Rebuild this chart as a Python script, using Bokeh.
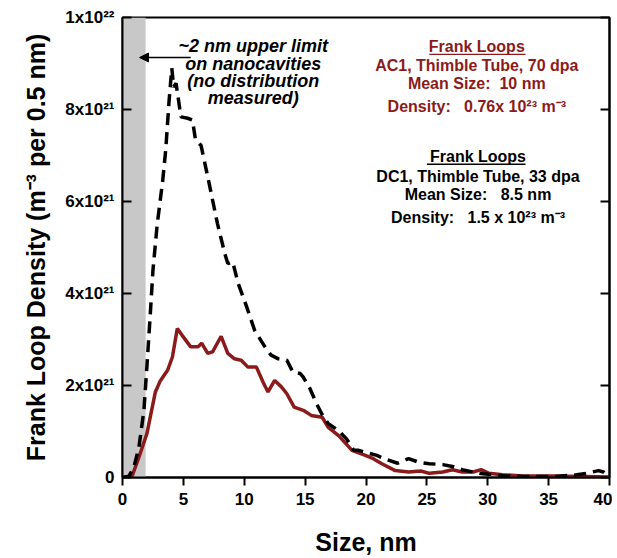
from bokeh.plotting import figure
from bokeh.models import (FixedTicker, LinearAxis, Range1d, Arrow, NormalHead,
                          BoxAnnotation)
from bokeh.core.properties import value
from bokeh.embed import file_html
from bokeh.resources import INLINE

# ---- data (y in units of 1e21 m^-3 per 0.5 nm) ----
x_ac1 = [0, 0.8, 1.35, 2.0, 2.7, 3.1, 3.7, 4.1, 4.5, 4.9, 5.6, 6.2, 6.5, 7.0, 7.4, 8.1,
         8.65, 9.2, 9.75, 10.3, 11.0, 11.55, 11.95, 12.5, 13.05, 13.5, 14.1, 14.85, 15.5,
         16.4, 16.9, 17.75, 18.85, 19.95, 20.6, 21.3, 22.4, 23.5, 24.5, 25.2, 26.3, 27.1,
         27.9, 28.8, 29.45, 30.1, 31.2, 32.9, 35.4, 38.0, 40.0]
y_ac1 = [0, 0.04, 0.44, 0.95, 1.86, 2.1, 2.33, 2.62, 3.24, 3.09, 2.84, 2.84, 2.92, 2.70,
         2.73, 3.07, 2.70, 2.58, 2.55, 2.40, 2.40, 2.07, 1.86, 2.11, 1.97, 1.82, 1.53,
         1.46, 1.35, 1.31, 1.09, 0.91, 0.59, 0.48, 0.41, 0.30, 0.15, 0.12, 0.14, 0.09,
         0.12, 0.17, 0.12, 0.12, 0.17, 0.09, 0.06, 0.03, 0.03, 0.02, 0.01]

x_dc1 = [0, 0.5, 0.93, 1.35, 1.76, 2.04, 2.3, 2.5, 2.85, 3.3, 3.55, 3.83, 4.05, 4.2, 4.4,
         4.8, 5.35, 5.75, 6.0, 6.45, 7.0, 7.8, 8.4, 8.65, 9.05, 9.5, 10.2, 10.85, 11.7,
         12.2, 12.8, 13.5, 14.0, 14.6, 14.85, 15.4, 15.95, 16.35, 16.9, 17.75, 18.4, 19.0,
         19.4, 19.95, 20.9, 21.5, 22.6, 23.5, 24.35, 25.2, 26.3, 27.1, 27.9, 28.8, 29.6,
         31.2, 32.9, 35.4, 37.3, 38.1, 39.1, 39.5, 39.9]
y_dc1 = [0, 0.02, 0.22, 0.66, 1.46, 2.55, 3.63, 4.5, 5.5, 6.45, 7.12, 8.2, 8.9, 8.49, 8.57,
         7.84, 7.81, 7.77, 7.33, 7.22, 6.54, 5.52, 4.87, 4.65, 4.69, 4.22, 3.71, 3.20, 2.84,
         2.66, 2.58, 2.55, 2.29, 2.26, 2.18, 1.93, 1.60, 1.39, 1.17, 1.02, 0.84, 0.59,
         0.59, 0.55, 0.48, 0.41, 0.31, 0.41, 0.33, 0.30, 0.28, 0.24, 0.17, 0.12, 0.08,
         0.04, 0.02, 0.02, 0.06, 0.09, 0.15, 0.12, 0.04]

x_ticks = [0, 5, 10, 15, 20, 25, 30, 35, 40]
y_ticks = [0, 2, 4, 6, 8, 10]
y_tick_labels = ["0", "2x10²¹", "4x10²¹", "6x10²¹", "8x10²¹", "1x10²²"]
nanocavity_limit = 1.9

NB = "\u00a0"
note_lines = ["~2 nm upper limit", "on nanocavities", "(no distribution", "measured)"]
ac1_lines = ["Frank Loops", "AC1, Thimble Tube, 70 dpa", f"Mean Size:{NB*2}10 nm",
             f"Density:{NB*3}0.76x 10²³ m⁻³"]
dc1_lines = ["Frank Loops", "DC1, Thimble Tube, 33 dpa", f"Mean Size:{NB*3}8.5 nm",
             f"Density:{NB*3}1.5 x 10²³ m⁻³"]

RED = "#8B1A1A"
FONT = "Liberation Sans"

p = figure(width=612, height=558, output_backend="svg", toolbar_location=None,
           x_range=Range1d(0, 40), y_range=Range1d(0, 10),
           min_border_left=122, min_border_right=3, min_border_top=17, min_border_bottom=81)
p.grid.visible = False
p.outline_line_color = "black"
p.outline_line_width = 2
p.background_fill_color = "white"

# gray band
p.add_layout(BoxAnnotation(left=0, right=nanocavity_limit, fill_color="#c8c8c8",
                           fill_alpha=1.0, line_color=None, level="underlay"))

# curves
p.line(x_ac1, y_ac1, line_color=RED, line_width=3.5)
p.line(x_dc1, y_dc1, line_color="black", line_width=3.5, line_dash="12 7")

# axes
xa = p.xaxis[0]
xa.ticker = FixedTicker(ticks=x_ticks)
xa.axis_label = "Size, nm"
ya = p.yaxis[0]
ya.ticker = FixedTicker(ticks=y_ticks)
ya.major_label_overrides = {t: l for t, l in zip(y_ticks, y_tick_labels)}
ya.axis_label = "Frank Loop Density (m⁻³ per 0.5 nm)"
for ax in (xa, ya):
    ax.axis_line_width = 2
    ax.major_tick_line_width = 2
    ax.minor_tick_line_color = None
    ax.major_label_text_font = FONT
    ax.major_label_text_font_style = "bold"
    ax.major_label_text_font_size = "17px"
    ax.major_label_text_color = "black"
    ax.axis_label_text_font = FONT
    ax.axis_label_text_font_style = "bold"
    ax.axis_label_text_font_size = "25px"
    ax.axis_label_text_color = "black"
xa.major_tick_in = 0
xa.major_tick_out = 8
xa.major_label_standoff = 7
xa.axis_label_standoff = 20
ya.major_tick_in = 9
ya.major_tick_out = 0
ya.major_label_standoff = 8
ya.axis_label_standoff = 12

ra = LinearAxis(ticker=FixedTicker(ticks=y_ticks), major_tick_in=9, major_tick_out=0,
                minor_tick_line_color=None, axis_line_width=2, major_tick_line_width=2,
                major_label_overrides={t: "" for t in y_ticks})
p.add_layout(ra, "right")

# annotation: nanocavities
p.add_layout(Arrow(end=NormalHead(size=9, fill_color="black", line_color="black"),
                   x_start=5.6, y_start=9.13, x_end=1.4, y_end=9.13,
                   line_width=1.5, line_color="black"))
p.text(x=[10.74] * 4, y=[9.39, 8.98, 8.61, 8.24], text=note_lines,
       text_align="center", text_baseline="middle", text_font=value(FONT),
       text_font_style="bold italic", text_font_size="18px", text_color="black")

# text blocks
def block(lines, ys, color, xc, ul_y, ul_x0, ul_x1):
    p.text(x=[xc] * len(lines), y=ys, text=lines, text_align="center",
           text_baseline="middle", text_font=value(FONT), text_font_style="bold",
           text_font_size="16px", text_color=color)
    p.segment(x0=[ul_x0], y0=[ul_y], x1=[ul_x1], y1=[ul_y], line_color=color, line_width=1.3)

block(ac1_lines, [9.37, 8.96, 8.57, 8.07], RED, 29.1, 9.20, 25.2, 33.1)
block(dc1_lines, [6.98, 6.54, 6.15, 5.65], "black", 29.2, 6.81, 25.0, 33.1)

open("out.html", "w").write(file_html(p, INLINE))
